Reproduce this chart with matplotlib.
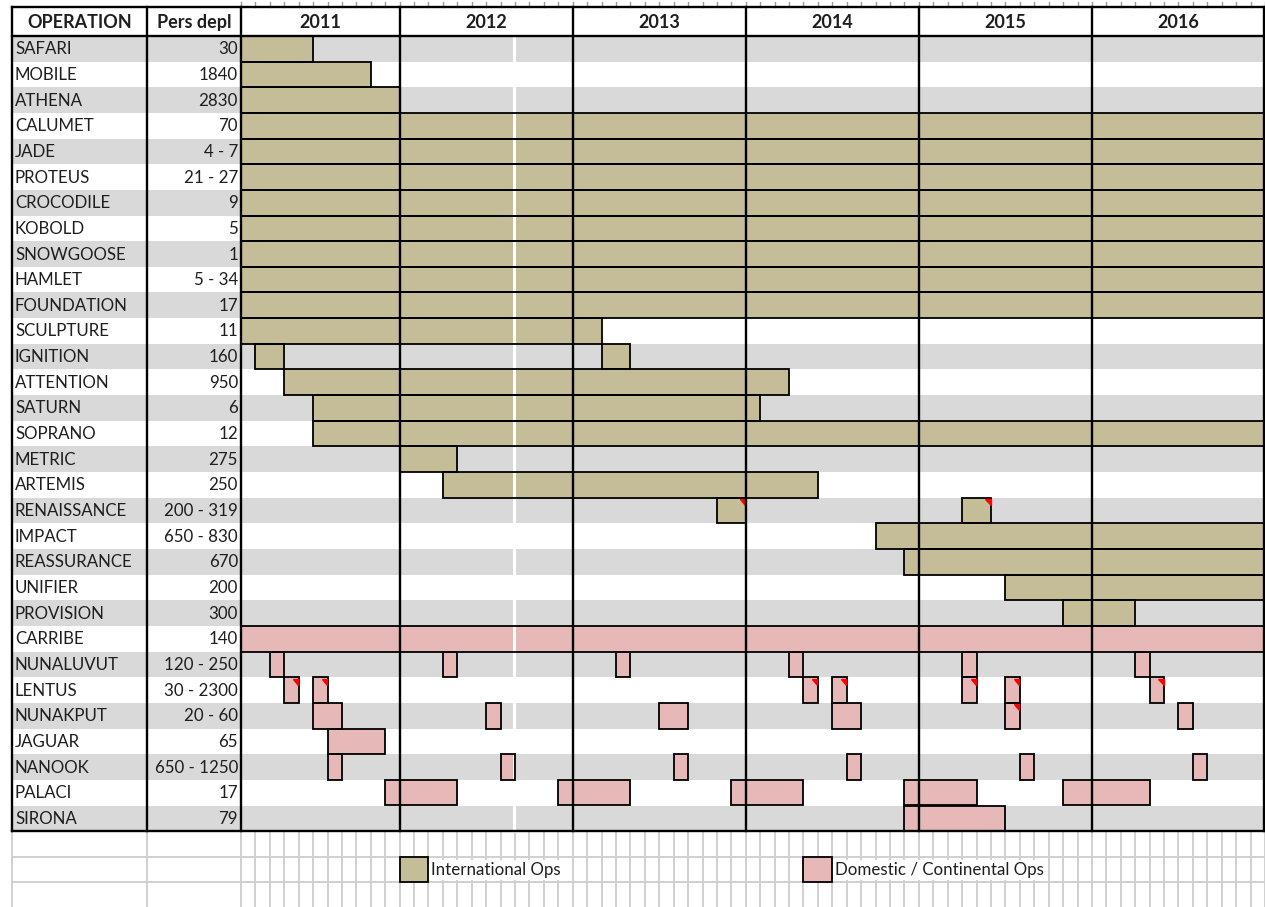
import matplotlib

matplotlib.use("Agg")
import matplotlib.pyplot as plt
from matplotlib.patches import Polygon, Rectangle

# --- data -------------------------------------------------------------------
operations = [
    "SAFARI", "MOBILE", "ATHENA", "CALUMET", "JADE", "PROTEUS", "CROCODILE",
    "KOBOLD", "SNOWGOOSE", "HAMLET", "FOUNDATION", "SCULPTURE", "IGNITION",
    "ATTENTION", "SATURN", "SOPRANO", "METRIC", "ARTEMIS", "RENAISSANCE",
    "IMPACT", "REASSURANCE", "UNIFIER", "PROVISION", "CARRIBE", "NUNALUVUT",
    "LENTUS", "NUNAKPUT", "JAGUAR", "NANOOK", "PALACI", "SIRONA",
]
personnel = [
    "30", "1840", "2830", "70", "4 - 7", "21 - 27", "9", "5", "1", "5 - 34",
    "17", "11", "160", "950", "6", "12", "275", "250", "200 - 319",
    "650 - 830", "670", "200", "300", "140", "120 - 250", "30 - 2300",
    "20 - 60", "65", "650 - 1250", "17", "79",
]
kinds = ["intl"] * 23 + ["dom"] * 8

# (start, end) months, end exclusive
periods = [
    [("2011-02", "2011-07")],
    [("2011-02", "2011-11")],
    [("2011-02", "2012-01")],
    [("2011-02", "2017-01")],
    [("2011-02", "2017-01")],
    [("2011-02", "2017-01")],
    [("2011-02", "2017-01")],
    [("2011-02", "2017-01")],
    [("2011-02", "2017-01")],
    [("2011-02", "2017-01")],
    [("2011-02", "2017-01")],
    [("2011-02", "2013-03")],
    [("2011-03", "2011-05"), ("2013-03", "2013-05")],
    [("2011-05", "2014-04")],
    [("2011-07", "2014-02")],
    [("2011-07", "2017-01")],
    [("2012-01", "2012-05")],
    [("2012-04", "2014-06")],
    [("2013-11", "2014-01"), ("2015-04", "2015-06")],
    [("2014-10", "2017-01")],
    [("2014-12", "2017-01")],
    [("2015-07", "2017-01")],
    [("2015-11", "2016-04")],
    [("2011-02", "2017-01")],
    [("2011-04", "2011-05"), ("2012-04", "2012-05"), ("2013-04", "2013-05"),
     ("2014-04", "2014-05"), ("2015-04", "2015-05"), ("2016-04", "2016-05")],
    [("2011-05", "2011-06"), ("2011-07", "2011-08"), ("2014-05", "2014-06"),
     ("2014-07", "2014-08"), ("2015-04", "2015-05"), ("2015-07", "2015-08"),
     ("2016-05", "2016-06")],
    [("2011-07", "2011-09"), ("2012-07", "2012-08"), ("2013-07", "2013-09"),
     ("2014-07", "2014-09"), ("2015-07", "2015-08"), ("2016-07", "2016-08")],
    [("2011-08", "2011-12")],
    [("2011-08", "2011-09"), ("2012-08", "2012-09"), ("2013-08", "2013-09"),
     ("2014-08", "2014-09"), ("2015-08", "2015-09"), ("2016-08", "2016-09")],
    [("2011-12", "2012-05"), ("2012-12", "2013-05"), ("2013-12", "2014-05"),
     ("2014-12", "2015-05"), ("2015-11", "2016-05")],
    [("2014-12", "2015-07")],
]
# cells carrying a spreadsheet comment marker
commented = [
    ("RENAISSANCE", "2013-11"), ("RENAISSANCE", "2015-04"),
    ("LENTUS", "2011-05"), ("LENTUS", "2011-07"), ("LENTUS", "2014-05"),
    ("LENTUS", "2014-07"), ("LENTUS", "2015-04"), ("LENTUS", "2015-07"),
    ("LENTUS", "2016-05"), ("NUNAKPUT", "2015-07"),
]
years = [2011, 2012, 2013, 2014, 2015, 2016]
timeline = ("2011-02", "2017-01")
legend_labels = {"intl": "International Ops", "dom": "Domestic / Continental Ops"}
legend_months = {"intl": "2012-01", "dom": "2014-05"}

# --- styling ----------------------------------------------------------------
TAN = "#C4BD97"
PINK = "#E6B8B7"
STRIPE = "#D9D9D9"
GRID = "#D0D0D0"
TEXT = "#1E1E1E"
FILL = {"intl": TAN, "dom": PINK}
FS_HEAD = 13
FS_ROW = 12.2

W, H = 1265, 907
PX_MONTH = 14.423
X0_PX = 241
ROW_TOP_PX = 36
ROW_PX = 25.65

plt.rcParams["font.family"] = ["Lato", "DejaVu Sans"]


def month_index(s):
    y, m = map(int, s.split("-"))
    return (y - 2011) * 12 + m - 2


def px_x(p):
    return (p - X0_PX) / PX_MONTH


def px_y(p):
    return (p - ROW_TOP_PX) / ROW_PX


fig = plt.figure(figsize=(W / 100, H / 100), dpi=100)
ax = fig.add_axes([0, 0, 1, 1])
ax.set_xlim(px_x(0), px_x(W))
ax.set_ylim(px_y(H), px_y(0))
ax.axis("off")

n_rows = len(operations)
t0, t1 = month_index(timeline[0]), month_index(timeline[1])
x_left, x_name_end, x_pers_end = px_x(12), px_x(147), t0
x_right = t1
y_head = px_y(7)

# stripes
for i in range(n_rows):
    if i % 2 == 0:
        ax.add_patch(Rectangle((x_left, i), x_right - x_left, 1,
                               facecolor=STRIPE, edgecolor="none", zorder=1))

# grid below the table
for m in range(t0, t1 + 1):
    ax.plot([m, m], [n_rows, px_y(H)], color=GRID, lw=1.4, zorder=1)
    ax.plot([m, m], [px_y(2), y_head], color="#9A9A9A", lw=1.0, zorder=1)
for xv in (x_left, x_name_end):
    ax.plot([xv, xv], [n_rows, px_y(H)], color=GRID, lw=1.4, zorder=1)
for r in (n_rows + 1, n_rows + 2):
    ax.plot([x_left, x_right], [r, r], color=GRID, lw=1.4, zorder=1)

# bars
for i, (name, segs, kind) in enumerate(zip(operations, periods, kinds)):
    for start, end in segs:
        s, e = month_index(start), month_index(end)
        ax.barh(i, e - s, left=s, height=1, align="edge", color=FILL[kind],
                edgecolor="none", zorder=2)
        ax.barh(i, e - s, left=s, height=1, align="edge", fill=False,
                edgecolor="black", lw=1.3, zorder=4)
        if (name, start) in commented:
            dx, dy = 6 / PX_MONTH, 6 / ROW_PX
            ax.add_patch(Polygon([(e - dx, i + 0.05), (e - 0.03, i + 0.05),
                                  (e - 0.03, i + 0.05 + dy)],
                                 closed=True, color="red", zorder=5))

# white column gap inside 2012
gap = month_index("2012-09") - 0.05
ax.plot([gap, gap], [0, n_rows], color="white", lw=2.2, zorder=3)

# table frame
lw = 1.7
for y in years:
    xv = max(t0, month_index(f"{y}-01"))
    ax.plot([xv, xv], [y_head, n_rows], color="black", lw=lw, zorder=6)
for xv in (x_left, x_name_end, x_right - 0.04):
    ax.plot([xv, xv], [y_head, n_rows], color="black", lw=lw, zorder=6)
for yv in (y_head, 0, n_rows):
    ax.plot([x_left, x_right], [yv, yv], color="black", lw=lw, zorder=6)

# header
head_y = (y_head + 0) / 2 + 0.03
ax.text((x_left + x_name_end) / 2, head_y, "OPERATION", ha="center",
        va="center", fontsize=FS_HEAD, fontweight="bold", color=TEXT)
ax.text((x_name_end + x_pers_end) / 2, head_y, "Pers depl", ha="center",
        va="center", fontsize=FS_HEAD, fontweight="bold", color=TEXT)
for y in years:
    a = max(t0, month_index(f"{y}-01"))
    b = month_index(f"{y + 1}-01")
    ax.text((a + b) / 2, head_y, str(y), ha="center", va="center",
            fontsize=FS_HEAD, fontweight="bold", color=TEXT)

# row labels
for i, (name, pers) in enumerate(zip(operations, personnel)):
    ax.text(px_x(15), i + 0.52, name, ha="left", va="center",
            fontsize=FS_ROW, color=TEXT, zorder=7)
    ax.text(px_x(238), i + 0.52, pers, ha="right", va="center",
            fontsize=FS_ROW, color=TEXT, zorder=7)

# legend row
for kind in ("intl", "dom"):
    s = month_index(legend_months[kind])
    r = n_rows + 1
    ax.add_patch(Rectangle((s, r), 2, 1, facecolor=FILL[kind],
                           edgecolor="black", lw=1.3, zorder=4))
    ax.text(s + 2.2, r + 0.52, legend_labels[kind], ha="left", va="center",
            fontsize=FS_ROW, color=TEXT, zorder=7,
            bbox=dict(facecolor="white", edgecolor="none", pad=1.5))

fig.savefig("out.png", dpi=100)
